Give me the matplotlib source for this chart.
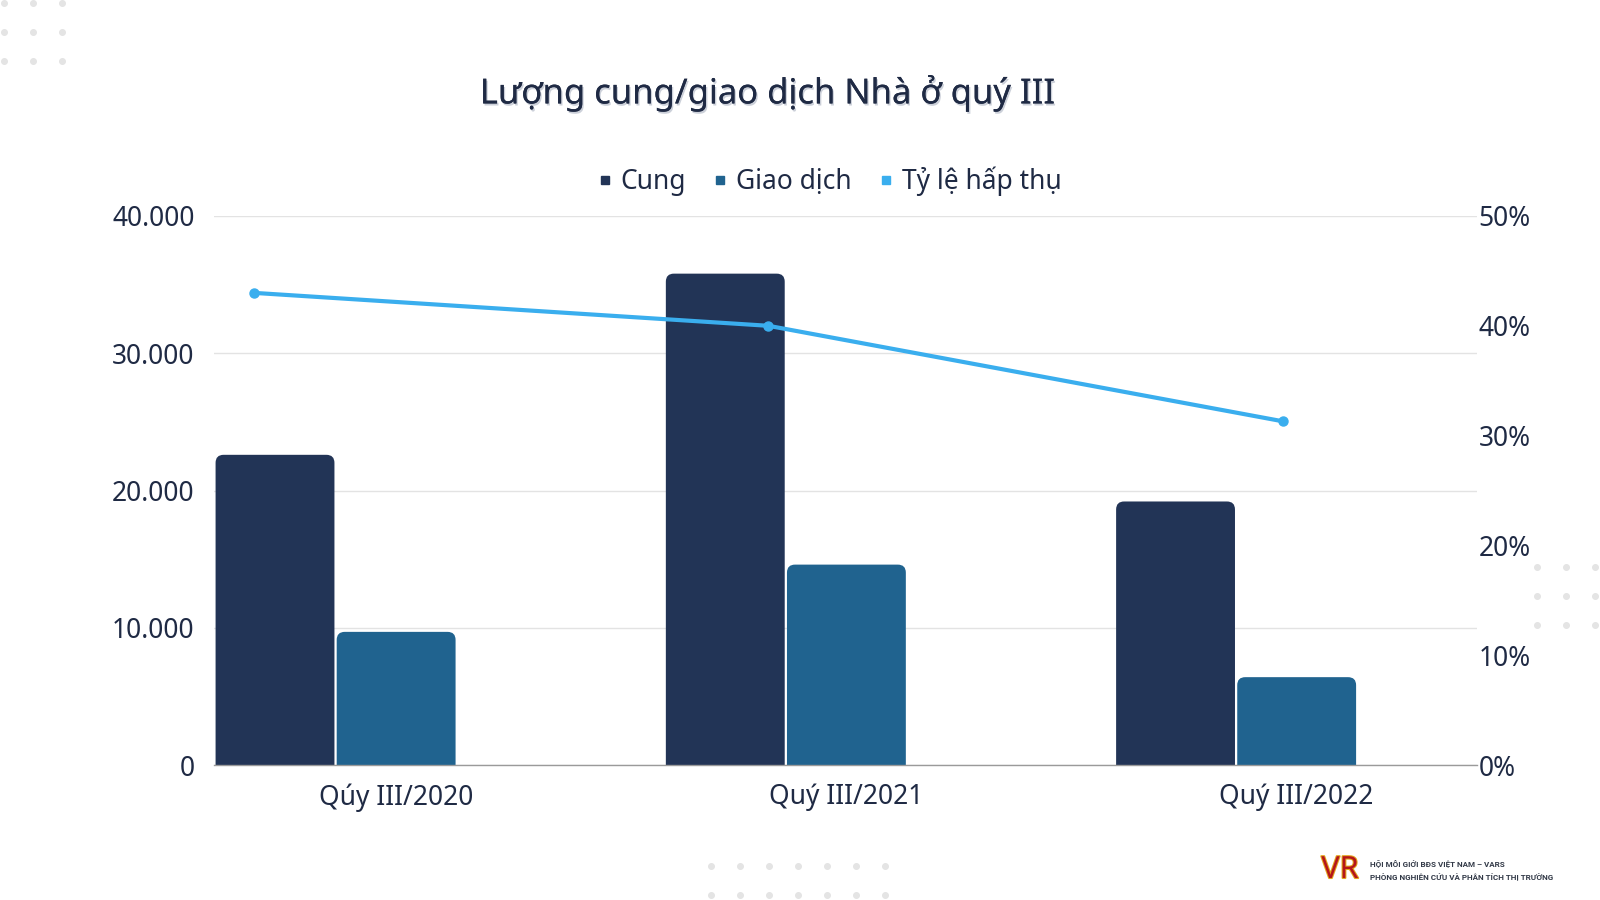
import numpy as np
import matplotlib
matplotlib.use("Agg")
import matplotlib.pyplot as plt
import matplotlib.patheffects as pe
from matplotlib.patches import FancyBboxPatch
from matplotlib.lines import Line2D
from matplotlib.ticker import FuncFormatter, MultipleLocator

plt.rcParams['font.family'] = ['Noto Sans', 'DejaVu Sans']

# data
quarters = ["Qúy III/2020", "Quý III/2021", "Quý III/2022"]
cung = [22600, 35800, 19200]
giao_dich = [9700, 14600, 6400]
ty_le = [0.430, 0.400, 0.313]

c_cung = '#223456'
c_gd = '#20638f'
c_line = '#3aaeee'
c_text = '#1f2a44'

W, H = 1600, 900
fig = plt.figure(figsize=(16, 9), dpi=100)
rect = [214 / W, 1 - 765 / H, (1477 - 214) / W, (765 - 216) / H]
ax = fig.add_axes(rect)

x = np.arange(len(quarters))
bw = 0.264
off = 0.1345
b1 = ax.bar(x - off, cung, bw, color=c_cung)
b2 = ax.bar(x + off, giao_dich, bw, color=c_gd)

ax.set_xlim(-0.27, 2.535)
ax.set_ylim(0, 40000)
ax.yaxis.set_major_locator(MultipleLocator(10000))
ax.yaxis.set_major_formatter(FuncFormatter(lambda v, p: f"{int(v):,}".replace(",", ".")))
ax.set_xticks(x + off)
ax.set_xticklabels(quarters)
ax.tick_params(axis='both', length=0, labelsize=19, labelcolor=c_text)
ax.tick_params(axis='y', pad=14)
ax.tick_params(axis='x', pad=13)
ax.grid(axis='y', color='#e3e3e3', linewidth=1)
ax.set_axisbelow(True)
for s in ['top', 'left', 'right']:
    ax.spines[s].set_visible(False)
ax.spines['bottom'].set_color('#9a9a9a')
ax.spines['bottom'].set_linewidth(1)
ax.spines['bottom'].set_zorder(5)

# rounded tops on the bars
px_x = ax.bbox.width / (ax.get_xlim()[1] - ax.get_xlim()[0])
px_y = ax.bbox.height / (ax.get_ylim()[1] - ax.get_ylim()[0])
asp = px_x / px_y
r = 8 / px_x
for bars in (b1, b2):
    for p in bars:
        px0, py0 = p.get_x(), p.get_y()
        w, h = p.get_width(), p.get_height()
        ext = 20 / px_y
        fb = FancyBboxPatch((px0, py0 - ext), w, h + ext,
                            boxstyle=f"round,pad=0,rounding_size={r}",
                            mutation_aspect=asp, facecolor=p.get_facecolor(),
                            edgecolor='none', zorder=2)
        ax.add_patch(fb)
        p.set_visible(False)

# absorption rate on its own axes (right scale)
ax2 = fig.add_axes(rect, frameon=False)
ax2.plot(np.arange(len(ty_le)), ty_le, color=c_line, lw=3, marker='o', ms=6.5,
         solid_capstyle='round')
ax2.set_xlim(-0.0774, 2.377)
ax2.set_ylim(0, 0.5)
ax2.xaxis.set_visible(False)
ax2.yaxis.tick_right()
ax2.yaxis.set_major_locator(MultipleLocator(0.1))
ax2.yaxis.set_major_formatter(FuncFormatter(lambda v, p: f"{v * 100:.0f}%"))
ax2.tick_params(axis='y', length=0, labelsize=19, labelcolor=c_text, pad=1)

# title
fig.text(767 / W, 1 - 93 / H, "Lượng cung/giao dịch Nhà ở quý III", ha='center', va='center',
         fontsize=24.9, color=c_text,
         path_effects=[pe.withSimplePatchShadow(offset=(1, -1.5), shadow_rgbFace='#9aa3b5', alpha=0.5), pe.Normal()])

# legend
handles = [Line2D([], [], color=c, marker='s', linestyle='None', markersize=6)
           for c in (c_cung, c_gd, c_line)]
fig.legend(handles, ["Cung", "Giao dịch", "Tỷ lệ hấp thụ"], loc='center',
           bbox_to_anchor=(830 / W, 1 - 181 / H), ncol=3, frameon=False,
           fontsize=19, labelcolor=c_text, handlelength=0.5, handletextpad=0.35,
           columnspacing=1.05)

# faint decorative dot grids
def dots(x0, y0, nx, ny, step=29):
    xs, ys = np.meshgrid(x0 + step * np.arange(nx), y0 + step * np.arange(ny))
    fig.add_artist(Line2D(xs.ravel() / W, 1 - ys.ravel() / H, transform=fig.transFigure,
                          linestyle='None', marker='o', markersize=4, color='#e4e4e4'))

dots(4, 3, 3, 3)
dots(1537, 567, 3, 3)
dots(711, 866, 7, 2)

# source logo
fig.text(1340 / W, 1 - 870 / H, "VR", ha='center', va='center', fontsize=22,
         fontweight='bold', color='#b5161b',
         path_effects=[pe.withStroke(linewidth=1.5, foreground='#e3a51c')])
small = dict(ha='left', va='center', fontsize=5.8, fontweight='bold', color='#333a48',
             family=['Roboto', 'DejaVu Sans'])
fig.text(1370 / W, 1 - 864 / H, "HỘI MÔI GIỚI BĐS VIỆT NAM – VARS", **small)
fig.text(1370 / W, 1 - 877 / H, "PHÒNG NGHIÊN CỨU VÀ PHÂN TÍCH THỊ TRƯỜNG", **small)

fig.savefig("out.png", dpi=100, facecolor='white')
